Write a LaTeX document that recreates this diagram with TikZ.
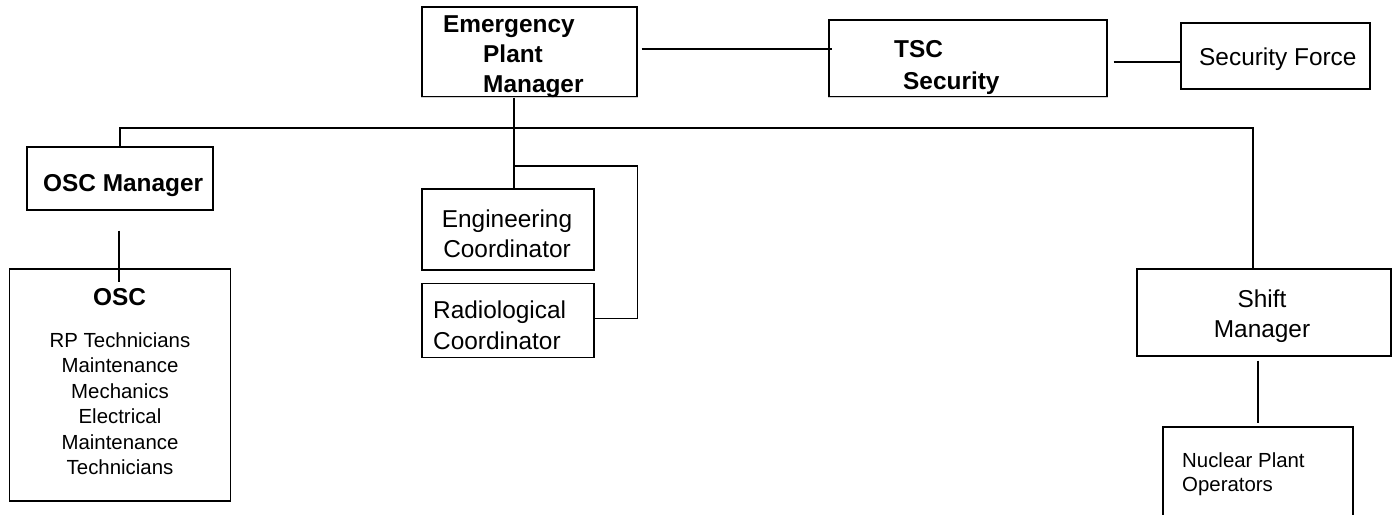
\documentclass[tikz,border=0pt]{standalone}
\usepackage{fontspec}
\setmainfont{Liberation Sans}
\usetikzlibrary{positioning}

\tikzset{
  box/.style={rectangle,draw,line width=1.3pt,inner sep=0pt},
  wire/.style={line width=1.3pt},
  bigtxt/.style={font=\fontsize{24.4}{30}\selectfont,inner sep=0pt},
  boldtxt/.style={font=\fontsize{24.4}{30}\selectfont\bfseries,inner sep=0pt},
  smalltxt/.style={font=\fontsize{20.4}{25.4}\selectfont,inner sep=0pt},
}

\begin{document}
\begin{tikzpicture}[x=1pt,y=-1pt]
\useasboundingbox (0,0) rectangle (1400,514);

% boxes
\node[box,minimum width=215pt,minimum height=90pt] (epm) at (529.5,52) {};
\node[box,minimum width=278pt,minimum height=77pt] (tsc) at (968,58.5) {};
\node[box,minimum width=189pt,minimum height=66pt] (secf) at (1275.5,56) {};
\node[box,minimum width=186pt,minimum height=63pt] (oscm) at (120,178.5) {};
\node[box,minimum width=221pt,minimum height=232pt] (osc) at (120,385) {};
\node[box,minimum width=172pt,minimum height=81pt] (eng) at (508,229.5) {};
\node[box,minimum width=172pt,minimum height=74pt,below=12pt of eng] (rad) {};
\node[box,minimum width=254pt,minimum height=87pt] (shift) at (1264,312.5) {};
\node[box,minimum width=190pt,minimum height=120pt] (npo) at (1258,487) {};
\draw[gray!35,line width=1.3pt] (epm.south west) -- (epm.south east);
\draw[gray!35,line width=1.3pt] (tsc.south west) -- (tsc.south east);

% texts (base = last line)
\node[boldtxt,align=left,anchor=base west] (epm-t) at (443,92)
  {Emergency\\\hspace{40pt}Plant\\\hspace{40pt}Manager};
\node[boldtxt,align=left,anchor=base west,font=\fontsize{24.4}{32}\selectfont\bfseries] (tsc-t) at (894,89)
  {TSC\\\hspace{9pt}Security};
\node[bigtxt,anchor=base west] (secf-t) at (1199,65) {Security Force};
\node[boldtxt,anchor=base west] (oscm-t) at (43,191) {OSC Manager};
\node[boldtxt,anchor=base] (osc-t) at (119.5,305) {OSC};
\node[smalltxt,align=center,anchor=base] (osc-l) at (120,474.5)
  {RP Technicians\\Maintenance\\Mechanics\\Electrical\\Maintenance\\Technicians};
\node[bigtxt,align=center,anchor=base] (eng-t) at (507,257) {Engineering\\Coordinator};
\node[bigtxt,align=left,anchor=base west,font=\fontsize{24.4}{31}\selectfont] (rad-t) at (433,349)
  {Radiological\\Coordinator};
\node[bigtxt,align=center,anchor=base] (shift-t) at (1262,337) {Shift\\Manager};
\node[smalltxt,align=left,anchor=base west,font=\fontsize{20.4}{24}\selectfont] (npo-t) at (1182,491)
  {Nuclear Plant\\Operators};

% connectors
\coordinate (bus) at (514,128);
\coordinate (br) at (514,166);
\draw[wire] ([shift={(4,-3)}]epm.east) -- ([shift={(4,-3)}]epm.east -| tsc.west);
\draw[wire] ([shift={(6,3.5)}]tsc.east) -- ([shift={(0,6)}]secf.west);
\draw[wire] (bus |- epm.south) -- (bus |- eng.north);
\draw[wire] (oscm.north) |- (bus) -| ([xshift=-11pt]shift.north);
\draw[wire] (br) -| ([shift={(43,-2)}]rad.east) -- ([shift={(0,-2)}]rad.east);
\draw[wire] ([shift={(-1,20)}]oscm.south) -- ([shift={(-1,14)}]osc.north);
\draw[wire] ([shift={(-6,4)}]shift.south) -- ([shift={(0,-3)}]npo.north);
\end{tikzpicture}
\end{document}
